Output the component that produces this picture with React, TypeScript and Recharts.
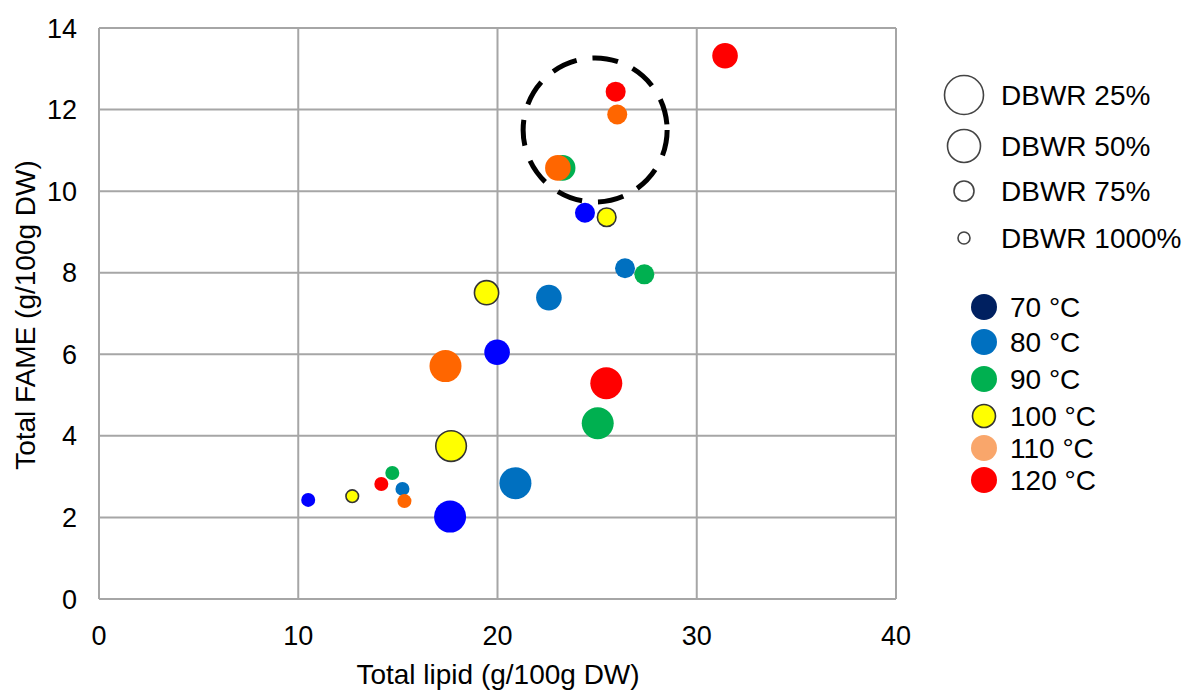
import React from 'react';
import { ScatterChart, Scatter, XAxis, YAxis, CartesianGrid, ReferenceDot } from 'recharts';

// ---- data ----
const xTicks = [0, 10, 20, 30, 40];
const yTicks = [0, 2, 4, 6, 8, 10, 12, 14];
const xTitle = 'Total lipid (g/100g DW)';
const yTitle = 'Total FAME (g/100g DW)';
const dbwrLevels = ['25', '50', '75', '1000'];
const dbwrLabels = ['DBWR 25%', 'DBWR 50%', 'DBWR 75%', 'DBWR 1000%'];
const tempLabels = ['70 °C', '80 °C', '90 °C', '100 °C', '110 °C', '120 °C'];

const t70 = [
  { lipid: 10.5, fame: 2.43, dbwr: '1000' },
  { lipid: 17.62, fame: 2.02, dbwr: '25' },
  { lipid: 19.98, fame: 6.05, dbwr: '50' },
  { lipid: 24.39, fame: 9.47, dbwr: '75' },
];
const t80 = [
  { lipid: 15.23, fame: 2.7, dbwr: '1000' },
  { lipid: 20.9, fame: 2.84, dbwr: '25' },
  { lipid: 22.58, fame: 7.39, dbwr: '50' },
  { lipid: 26.4, fame: 8.11, dbwr: '75' },
];
const t90 = [
  { lipid: 14.72, fame: 3.09, dbwr: '1000' },
  { lipid: 25.03, fame: 4.31, dbwr: '25' },
  { lipid: 23.27, fame: 10.57, dbwr: '50' },
  { lipid: 27.37, fame: 7.96, dbwr: '75' },
];
const t100 = [
  { lipid: 12.71, fame: 2.52, dbwr: '1000' },
  { lipid: 17.67, fame: 3.75, dbwr: '25' },
  { lipid: 19.45, fame: 7.51, dbwr: '50' },
  { lipid: 25.48, fame: 9.36, dbwr: '75' },
];
const t110 = [
  { lipid: 15.33, fame: 2.4, dbwr: '1000' },
  { lipid: 17.39, fame: 5.71, dbwr: '25' },
  { lipid: 23.03, fame: 10.57, dbwr: '50' },
  { lipid: 26.01, fame: 11.88, dbwr: '75' },
];
const t120 = [
  { lipid: 14.17, fame: 2.82, dbwr: '1000' },
  { lipid: 25.46, fame: 5.29, dbwr: '25' },
  { lipid: 31.42, fame: 13.32, dbwr: '50' },
  { lipid: 25.93, fame: 12.44, dbwr: '75' },
];
const highlight = { lipid: 24.9, fame: 11.5 };

// ---- styles ----
const FONT = '"Liberation Sans", Arial, sans-serif';
const radiusByLevel: Record<string, number> = { '25': 16, '50': 12.8, '75': 10, '1000': 7 };
const legendRadius = [19.5, 16.5, 10, 6];
const seriesStyles = [
  { data: t70, fill: '#0000FF', stroke: 'none', legendFill: '#002060', legendStroke: 'none' },
  { data: t80, fill: '#0070C0', stroke: 'none', legendFill: '#0070C0', legendStroke: 'none' },
  { data: t90, fill: '#00B050', stroke: 'none', legendFill: '#00B050', legendStroke: 'none' },
  { data: t100, fill: '#FFFF00', stroke: '#333333', legendFill: '#FFFF00', legendStroke: '#333333' },
  { data: t110, fill: '#FF6600', stroke: 'none', legendFill: '#F9A66B', legendStroke: 'none' },
  { data: t120, fill: '#FF0000', stroke: 'none', legendFill: '#FF0000', legendStroke: 'none' },
];

const makeShape = (fill: string, stroke: string) => (props: any) => {
  const r = radiusByLevel[props.payload.dbwr] ?? 8;
  return (
    <circle
      cx={props.cx}
      cy={props.cy}
      r={stroke === 'none' ? r : r - 0.7}
      fill={fill}
      stroke={stroke}
      strokeWidth={stroke === 'none' ? 0 : 1.6}
    />
  );
};

const tickStyle = { fontFamily: FONT, fontSize: 27, fill: '#000' };

function Overlay() {
  const sizeY = [95, 146, 191, 238];
  const tempY = [307, 342, 379, 416, 448, 480];
  return (
    <svg
      width={1190}
      height={691}
      style={{ position: 'absolute', left: 0, top: 0, pointerEvents: 'none' }}
      fontFamily={FONT}
    >
      <text
        x={35}
        y={315}
        fontSize={28}
        textAnchor="middle"
        transform="rotate(-90 35 315)"
        fill="#000"
      >
        {yTitle}
      </text>
      <text x={498} y={684} fontSize={28} textAnchor="middle" fill="#000">
        {xTitle}
      </text>
      {dbwrLabels.map((lab, i) => (
        <g key={lab}>
          <circle cx={964} cy={sizeY[i]} r={legendRadius[i]} fill="#fff" stroke="#444" strokeWidth={1.6} />
          <text x={1001} y={sizeY[i]} dy="0.355em" fontSize={28} fill="#000">
            {lab}
          </text>
        </g>
      ))}
      {tempLabels.map((lab, i) => (
        <g key={lab}>
          <circle
            cx={984}
            cy={tempY[i]}
            r={seriesStyles[i].legendStroke === 'none' ? 13 : 11.5}
            fill={seriesStyles[i].legendFill}
            stroke={seriesStyles[i].legendStroke}
            strokeWidth={seriesStyles[i].legendStroke === 'none' ? 0 : 1.6}
          />
          <text x={1010} y={tempY[i]} dy="0.355em" fontSize={28} fill="#000">
            {lab}
          </text>
        </g>
      ))}
    </svg>
  );
}

export default function App() {
  return (
    <div style={{ position: 'absolute', left: 0, top: 0, width: 1190, height: 691, background: '#fff' }}>
      <ScatterChart width={1190} height={691} margin={{ top: 28, right: 294, bottom: 0, left: 0 }}>
        <CartesianGrid stroke="#A6A6A6" strokeWidth={2} />
        <XAxis
          type="number"
          dataKey="lipid"
          domain={[0, 40]}
          ticks={xTicks}
          axisLine={false}
          tickLine={false}
          tickSize={0}
          tickMargin={27}
          height={92}
          tick={tickStyle}
          interval={0}
        />
        <YAxis
          type="number"
          dataKey="fame"
          domain={[0, 14]}
          ticks={yTicks}
          axisLine={false}
          tickLine={false}
          tickSize={0}
          tickMargin={22}
          width={99}
          tick={tickStyle}
          interval={0}
        />
        {seriesStyles.map((s, i) => (
          <Scatter
            key={i}
            data={s.data}
            isAnimationActive={false}
            shape={makeShape(s.fill, s.stroke)}
          />
        ))}
        <ReferenceDot
          x={highlight.lipid}
          y={highlight.fame}
          r={72}
          fill="none"
          stroke="#000"
          strokeWidth={5}
          strokeDasharray="26 16"
        />
      </ScatterChart>
      <Overlay />
    </div>
  );
}
